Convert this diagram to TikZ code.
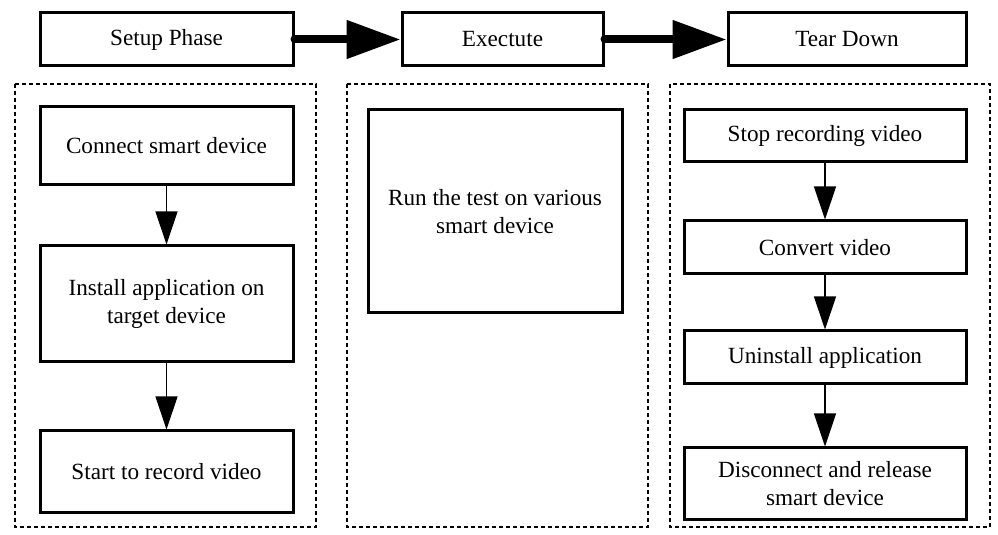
\documentclass[tikz,border=0pt]{standalone}
\usepackage{fontspec}
\setmainfont{Liberation Serif}
\usepackage{tikz}
\usetikzlibrary{arrows.meta}

\begin{document}
\begin{tikzpicture}[x=0.5pt,y=-0.5pt,
  box/.style={draw,line width=1.5pt,align=center,inner sep=0pt,
    font=\fontsize{11.6}{14}\selectfont},
  dashbox/.style={line width=1pt,dash pattern=on 2pt off 1.5pt},
  bigarrow/.style={line width=4pt,line cap=round,-{Triangle[length=27pt,width=18.5pt]}},
  smallarrow/.style={line width=0.6pt,-{Triangle[length=16.5pt,width=11pt]}}]
\useasboundingbox (0,0) rectangle (998,535);
% phases
\node[box,minimum width=126.5pt,minimum height=26.5pt] (setup) at (166.5,39.5) {Setup Phase};
\node[box,minimum width=100.5pt,minimum height=26.5pt] (exec) at (502.5,39.5) {Exectute};
\node[box,minimum width=119pt,minimum height=26.5pt] (tear) at (847,39.5) {Tear Down};
\draw[bigarrow] (setup.east) -- (exec.west);
\draw[bigarrow] (exec.east) -- (tear.west);
% dotted frames
\draw[dashbox] (15,84) rectangle (316,527);
\draw[dashbox] (347,84) rectangle (648,527);
\draw[dashbox] (670,84) rectangle (990,527);
% setup steps
\node[box,minimum width=126.5pt,minimum height=39pt] (connect) at (166.5,146) {Connect smart device};
\node[box,minimum width=126.5pt,minimum height=58pt] (install) at (166.5,304) {Install application on\\target device};
\node[box,minimum width=126.5pt,minimum height=40.5pt] (record) at (166.5,471.5) {Start to record video};
\draw[smallarrow] (connect) -- (install);
\draw[smallarrow] (install) -- (record);
% execute
\node[box,minimum width=127pt,minimum height=101.5pt] (run) at (495,211.5) {Run the test on various\\smart device};
% tear down steps
\node[box,minimum width=141pt,minimum height=26pt] (stop) at (825,136) {Stop recording video};
\node[box,minimum width=141pt,minimum height=26.5pt] (convert) at (825,247.5) {Convert video};
\node[box,minimum width=141pt,minimum height=26.5pt] (uninstall) at (825,357.5) {Uninstall application};
\node[box,minimum width=141pt,minimum height=35.5pt] (release) at (825,483.5) {Disconnect and release\\smart device};
\draw[smallarrow] (stop) -- (convert);
\draw[smallarrow] (convert) -- (uninstall);
\draw[smallarrow] (uninstall) -- (release);
\end{tikzpicture}
\end{document}
